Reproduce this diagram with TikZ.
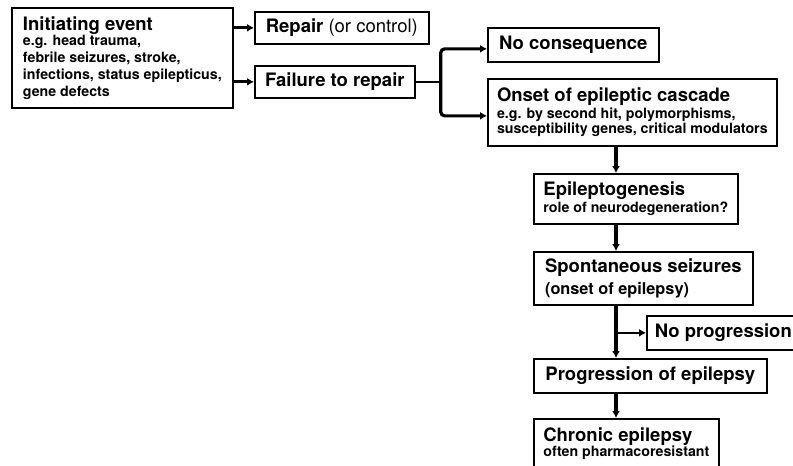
\documentclass[tikz,border=0pt]{standalone}
\usepackage{fontspec}
\setmainfont{TeX Gyre Heros}
\usetikzlibrary{arrows.meta}
\newcommand\titlefont{\fontsize{18.5}{21}\selectfont\bfseries}
\newcommand\midfont{\fontsize{16.3}{19}\selectfont\bfseries}
\newcommand\notefont{\fontsize{14.2}{17}\selectfont\bfseries}

\begin{document}
\begin{tikzpicture}[x=1pt, y=-1pt,
    >={Latex[length=7pt,width=8pt]},
    stage/.style={draw, line width=1.7pt, anchor=north west, align=left,
      inner xsep=8pt, inner ysep=2pt, font=\notefont},
    flow/.style={->, line width=3.2pt},
    link/.style={line width=1.3pt}]
  \useasboundingbox (0,0) rectangle (793,466);
  \clip (0,0) rectangle (793,466);

  % start and first choice
  \node[stage, minimum width=221, minimum height=100] (init) at (11,7)
    {{\titlefont Initiating event}\\[-2pt]
     e.g. head trauma,\\ febrile seizures, stroke,\\
     infections, status epilepticus,\\ gene defects};
  \node[stage, font=\titlefont, minimum width=174, minimum height=32] (repair) at (254,11)
    {Repair {\mdseries (or control)}};
  \node[stage, font=\titlefont, minimum width=160, minimum height=32] (fail) at (254,65)
    {Failure to repair};

  % second choice
  \node[stage, font=\titlefont, minimum width=171, minimum height=34] (nocons) at (487,27)
    {No consequence};
  \node[stage, minimum width=289, minimum height=67] (onset) at (487,78)
    {{\titlefont Onset of epileptic cascade}\\
     e.g. by second hit, polymorphisms,\\[-2.5pt]
     susceptibility genes, critical modulators};

  % course of epilepsy
  \node[stage, minimum width=204, minimum height=50] (epig) at (533,173)
    {{\titlefont Epileptogenesis}\\ role of neurodegeneration?};
  \node[stage, minimum width=219, minimum height=53] (spont) at (533,251)
    {{\titlefont Spontaneous seizures}\\[4.7pt] {\midfont (onset of epilepsy)}};
  \node[stage, font=\titlefont, minimum width=150, minimum height=34] (noprog) at (646,315)
    {No progression};
  \node[stage, font=\titlefont, minimum width=233, minimum height=34] (prog) at (533,358)
    {Progression of epilepsy};
  \node[stage, minimum width=185, minimum height=50] (chronic) at (533,418)
    {{\titlefont Chronic epilepsy}\\[-2pt] often pharmacoresistant};

  % connectors
  \draw[flow] (init.east |- repair.west) -- (repair.west);
  \draw[flow] (init.east |- fail.west) -- (fail.west);
  \coordinate (split) at ([xshift=25pt]fail.east);
  \draw[link] (fail.east) -- (split);
  \draw[flow, rounded corners=4pt] (split) |- ([yshift=-4pt]nocons.west);
  \draw[flow, rounded corners=4pt] (split) |- ([yshift=-3.5pt]onset.west);

  \coordinate (col) at (616,0);
  \draw[flow] (col |- onset.south) -- (col |- epig.north);
  \draw[flow] (col |- epig.south) -- (col |- spont.north);
  \draw[flow] (col |- spont.south) -- (col |- prog.north);
  \draw[flow, line width=2.2pt] (col |- noprog.west) -- (noprog.west);
  \draw[flow] (col |- prog.south) -- (col |- chronic.north);
\end{tikzpicture}
\end{document}
